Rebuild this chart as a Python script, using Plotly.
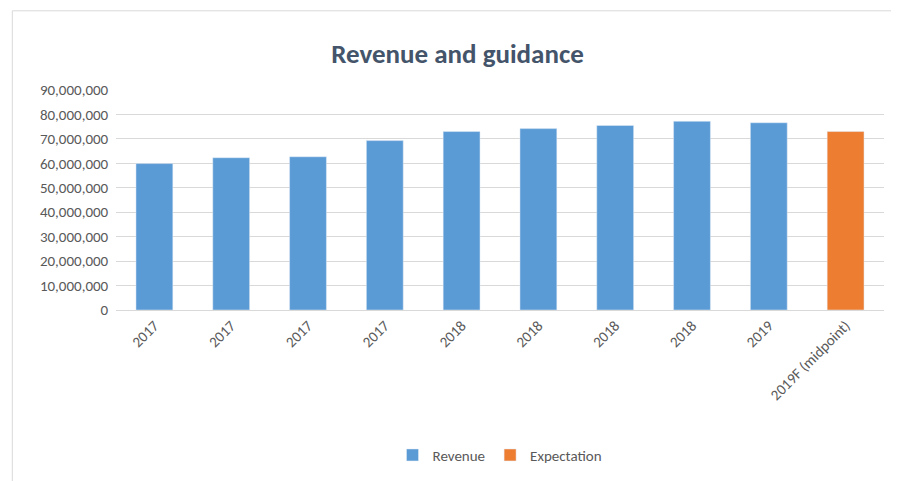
import plotly.graph_objects as go

labels = ["2017", "2017", "2017", "2017", "2018", "2018", "2018", "2018", "2019", "2019F (midpoint)"]
revenue = [59900000, 62300000, 62700000, 69300000, 73000000, 74200000, 75500000, 77200000, 76600000]
expectation = [73000000]

xs = list(range(len(labels)))

fig = go.Figure()
fig.add_trace(go.Bar(x=xs[:len(revenue)], y=revenue, name="Revenue",
                     marker_color="#5B9BD5", width=0.48))
fig.add_trace(go.Bar(x=xs[len(revenue):], y=expectation, name="Expectation",
                     marker_color="#ED7D31", width=0.48))

fig.update_layout(
    width=899, height=481,
    barmode="overlay",
    paper_bgcolor="white", plot_bgcolor="white",
    margin=dict(l=108, r=23, t=82, b=179),
    title=dict(text="<b>Revenue and guidance</b>", x=0.5, y=0.925, xanchor="center",
               font=dict(family="Calibri, Carlito, Lato, sans-serif", size=27, color="#44546A")),
    font=dict(family="Calibri, Carlito, Lato, sans-serif", size=15, color="#595959"),
    legend=dict(orientation="h", x=0.5, xanchor="center", y=-0.66, yanchor="middle",
                font=dict(size=15)),
    showlegend=True,
    xaxis=dict(tickvals=xs, ticktext=labels, tickangle=-45, range=[-0.5, 9.5], automargin=False,
               showgrid=False, showline=True, linecolor="#D9D9D9"),
    yaxis=dict(range=[0, 90000000], dtick=10000000, tickformat=",d", automargin=False,
               gridcolor="#D9D9D9", zeroline=False, ticksuffix="  "),
    shapes=[dict(type="rect", xref="paper", yref="paper", x0=-0.135, x1=1.028,
                 y0=-0.795, y1=1.36, line=dict(color="#D9D9D9", width=1))],
)

fig.write_html("out.html")
